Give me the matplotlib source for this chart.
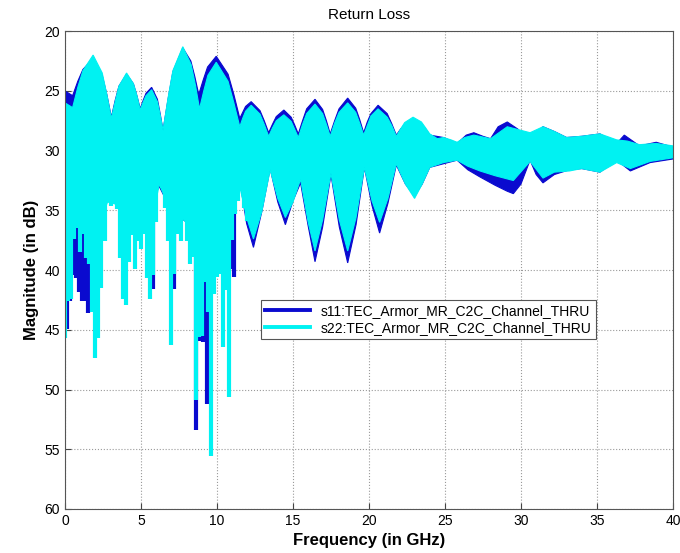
import numpy as np
import matplotlib.pyplot as plt

plt.rcParams['font.family'] = ['Liberation Sans', 'DejaVu Sans']

## DATA: (frequency GHz, magnitude dB) pairs

# s11 ripple band, upper edge (smallest dB)
s11_top = [(0.0, 25.0), (0.5, 25.4), (0.84, 24.2), (1.18, 23.2), (1.85, 22.3), (2.45, 23.7),
           (2.75, 25.3), (3.05, 27.2), (3.3, 25.8), (3.55, 24.6), (4.05, 23.6), (4.5, 24.4),
           (4.73, 25.4), (4.95, 26.5), (5.14, 25.8), (5.33, 25.2), (5.7, 24.7), (6.08, 25.7),
           (6.26, 26.9), (6.45, 28.3), (6.78, 25.7), (7.1, 23.4), (7.75, 21.4), (8.28, 22.5),
           (8.54, 23.8), (8.8, 25.3), (9.09, 24.1), (9.38, 23.0), (9.95, 22.1), (10.73, 23.6),
           (11.11, 25.3), (11.5, 27.3), (11.69, 26.8), (11.88, 26.3), (12.25, 25.9),
           (12.83, 26.65), (13.11, 27.5), (13.4, 28.5), (13.65, 27.8), (13.9, 27.15),
           (14.4, 26.6), (14.88, 27.2), (15.11, 27.85), (15.35, 28.6), (15.63, 27.5),
           (15.9, 26.5), (16.45, 25.7), (16.95, 26.55), (17.2, 27.5), (17.45, 28.6),
           (17.74, 27.5), (18.03, 26.5), (18.6, 25.6), (19.13, 26.45), (19.39, 27.4),
           (19.65, 28.5), (19.89, 27.6), (20.13, 26.9), (20.6, 26.2), (21.2, 26.9),
           (21.5, 27.75), (21.8, 28.7), (22.08, 28.2), (22.35, 27.8), (22.9, 27.4),
           (23.45, 27.8), (23.73, 28.2), (24.0, 28.7), (24.9, 28.9), (25.8, 29.4),
           (26.4, 28.7), (26.9, 28.5), (27.5, 28.8), (28.0, 29.0), (28.5, 28.0), (29.1, 27.6),
           (29.8, 28.2), (30.6, 29.4), (31.0, 28.5), (31.45, 28.0), (32.2, 28.4), (33.0, 28.9),
           (34.0, 28.8), (35.2, 28.6), (36.3, 29.4), (36.8, 28.7), (37.8, 29.6), (38.9, 29.3),
           (40.0, 29.7)]

# s11 ripple band, lower edge
s11_bot = [(0.0, 35.0), (1.0, 35.0), (2.0, 35.0), (3.05, 34.0), (4.0, 35.5), (5.0, 36.0),
           (6.2, 33.0), (7.0, 35.0), (8.0, 36.0), (9.0, 36.5), (10.0, 37.0), (10.5, 38.0),
           (11.0, 36.0), (11.5, 32.5), (11.95, 36.1), (12.4, 38.1), (12.95, 35.1), (13.5, 31.5),
           (14.0, 34.3), (14.5, 36.2), (15.0, 34.2), (15.5, 32.7), (16.0, 36.3), (16.45, 39.3),
           (16.95, 36.4), (17.5, 32.0), (18.05, 36.4), (18.6, 39.4), (19.15, 36.2), (19.7, 31.4),
           (20.2, 34.6), (20.7, 36.9), (21.25, 34.4), (21.8, 31.2), (22.4, 32.8), (23.0, 33.8),
           (23.5, 32.8), (24.0, 31.4), (24.9, 31.1), (25.8, 30.8), (26.5, 31.6), (27.3, 32.2),
           (28.3, 32.9), (29.1, 33.4), (29.5, 33.6), (30.0, 32.8), (30.6, 30.8), (31.0, 32.0),
           (31.45, 32.7), (32.2, 32.0), (33.2, 31.6), (34.0, 31.5), (35.2, 31.8), (36.3, 30.8),
           (37.2, 31.7), (38.5, 31.0), (40.0, 30.7)]

# s11 deep notches
s11_notch = [(0.1, 44.9), (0.3, 42.6), (0.5, 40.4), (0.7, 40.7), (0.9, 41.8), (1.1, 42.6),
             (1.3, 42.6), (1.5, 43.6), (1.7, 42.0), (5.8, 41.6), (7.2, 41.6), (8.65, 53.4),
             (8.9, 45.9), (9.05, 46.0), (9.35, 51.2), (11.0, 39.9), (11.15, 40.6)]

# s22 ripple band, upper edge
s22_top = [(0.0, 26.0), (0.5, 26.4), (0.84, 24.7), (1.18, 23.3), (1.85, 22.0), (2.45, 23.5),
           (2.75, 25.3), (3.05, 27.3), (3.3, 25.9), (3.55, 24.6), (4.05, 23.5), (4.5, 24.4),
           (4.73, 25.4), (4.95, 26.6), (5.14, 25.95), (5.33, 25.4), (5.7, 24.9), (6.08, 25.9),
           (6.26, 27.0), (6.45, 28.3), (6.78, 25.6), (7.1, 23.3), (7.75, 21.3), (8.3, 22.8),
           (8.58, 24.5), (8.85, 26.5), (9.13, 25.0), (9.4, 23.7), (9.95, 22.6), (10.73, 24.2),
           (11.11, 26.0), (11.5, 28.0), (11.69, 27.3), (11.88, 26.7), (12.25, 26.2),
           (12.83, 26.95), (13.11, 27.8), (13.4, 28.8), (13.65, 28.1), (13.9, 27.5),
           (14.4, 27.0), (14.88, 27.55), (15.11, 28.2), (15.35, 28.9), (15.63, 27.8),
           (15.9, 26.9), (16.45, 26.1), (16.95, 26.9), (17.2, 27.8), (17.45, 28.8),
           (17.74, 27.7), (18.03, 26.8), (18.6, 26.0), (19.13, 26.8), (19.39, 27.7),
           (19.65, 28.7), (19.89, 27.9), (20.13, 27.1), (20.6, 26.5), (21.2, 27.2),
           (21.5, 27.9), (21.8, 28.8), (22.08, 28.2), (22.35, 27.65), (22.9, 27.2),
           (23.45, 27.6), (23.73, 28.1), (24.0, 28.6), (24.5, 29.0), (24.9, 28.9),
           (25.4, 29.1), (25.8, 29.3), (26.3, 28.9), (26.9, 28.7), (28.0, 29.0), (29.1, 28.0),
           (30.0, 28.3), (30.6, 28.5), (31.45, 28.0), (32.2, 28.4), (33.0, 28.9), (34.0, 28.8),
           (35.2, 28.6), (36.3, 29.1), (37.0, 29.2), (37.8, 29.5), (38.9, 29.4), (40.0, 29.6)]

# s22 ripple band, lower edge
s22_bot = [(0.0, 36.0), (1.0, 35.0), (2.0, 35.0), (2.6, 35.0), (2.8, 34.3), (3.4, 34.5),
           (4.0, 35.5), (5.0, 36.0), (5.8, 35.5), (6.2, 32.8), (6.6, 34.0), (7.0, 35.0),
           (8.0, 36.0), (9.0, 36.5), (10.0, 37.5), (10.5, 38.0), (11.0, 35.3), (11.5, 33.0),
           (11.95, 35.6), (12.4, 37.4), (12.95, 35.1), (13.5, 31.6), (14.0, 34.0), (14.5, 35.6),
           (15.0, 34.3), (15.5, 32.4), (16.0, 36.0), (16.45, 38.4), (16.95, 35.8), (17.5, 31.9),
           (18.05, 35.8), (18.6, 38.4), (19.15, 35.6), (19.7, 31.4), (20.2, 34.2), (20.7, 36.0),
           (21.25, 34.0), (21.8, 31.1), (22.4, 32.8), (23.0, 34.0), (23.5, 32.8), (24.0, 31.4),
           (24.9, 31.0), (25.8, 30.8), (26.5, 31.3), (27.3, 31.7), (28.3, 32.1), (29.5, 32.5),
           (30.6, 30.9), (31.45, 32.3), (32.2, 31.8), (33.2, 31.7), (34.0, 31.5), (35.2, 31.8),
           (36.3, 31.0), (37.2, 31.5), (38.5, 30.9), (40.0, 30.6)]

# s22 lower-edge strokes, 0.2 GHz apart up to 12 GHz
s22_notch_f = np.arange(0, 12.01, 0.2)
s22_notch = [45.7, 42.6, 42.4, 37.4, 36.5, 38.5, 37.0, 39.0, 39.5, 43.5, 47.4, 45.7, 41.5,
             37.6, 34.3, 34.6, 34.3, 34.9, 39.0, 42.4, 42.9, 39.3, 37.1, 39.9, 37.6, 38.2,
             37.0, 40.7, 42.4, 40.4, 36.0, 32.8, 33.1, 34.8, 37.6, 46.3, 40.3, 37.0, 37.6,
             34.8, 37.6, 39.5, 38.9, 50.9, 45.6, 45.5, 41.0, 43.5, 55.6, 42.0, 40.6, 40.3,
             46.4, 41.7, 50.6, 37.5, 35.3, 34.2, 33.4, 34.8, 35.9]

labels = ['s11:TEC_Armor_MR_C2C_Channel_THRU', 's22:TEC_Armor_MR_C2C_Channel_THRU']
colors = ['#0A0ACF', '#00F2F2']


# one trace: ripple band as a polygon, then its notch strokes
def band(ax, top, bot, notch_f, notch, color, label):
    edge = np.array(top + bot[::-1])
    ax.fill(edge[:, 0], edge[:, 1], color=color, lw=0.8, edgecolor=color)
    ax.vlines(notch_f, 30, notch, color=color, lw=3.0)
    ax.plot([], [], color=color, lw=2.8, label=label)


fig = plt.figure(figsize=(6.8, 5.53), dpi=100)
ax = fig.add_axes([0.0956, 0.0796, 0.894, 0.864])

n11 = np.array(s11_notch)
band(ax, s11_top, s11_bot, n11[:, 0], n11[:, 1], colors[0], labels[0])
band(ax, s22_top, s22_bot, s22_notch_f, s22_notch, colors[1], labels[1])

ax.set_xlim(0, 40)
ax.set_ylim(60, 20)
ax.set_xticks(np.arange(0, 41, 5))
ax.set_yticks(np.arange(20, 61, 5))
ax.grid(True, linestyle=':', color='#9a9a9a', lw=0.8)
ax.set_axisbelow(True)
ax.tick_params(direction='in', labelsize=10, length=4, color='#444444')
for s in ax.spines.values():
    s.set_color('#555555')

ax.set_title('Return Loss', fontsize=11, pad=9)
ax.set_xlabel('Frequency (in GHz)', fontsize=12, fontweight='bold', labelpad=4)
ax.set_ylabel('Magnitude (in dB)', fontsize=12, fontweight='bold', labelpad=4)

leg = ax.legend(loc='upper left', bbox_to_anchor=(0.311, 0.452), fontsize=10,
                fancybox=False, framealpha=1, edgecolor='#555555',
                handlelength=3.2, borderpad=0.3, labelspacing=0.2)
leg.get_frame().set_linewidth(0.8)

plt.savefig('out.png', dpi=100)
